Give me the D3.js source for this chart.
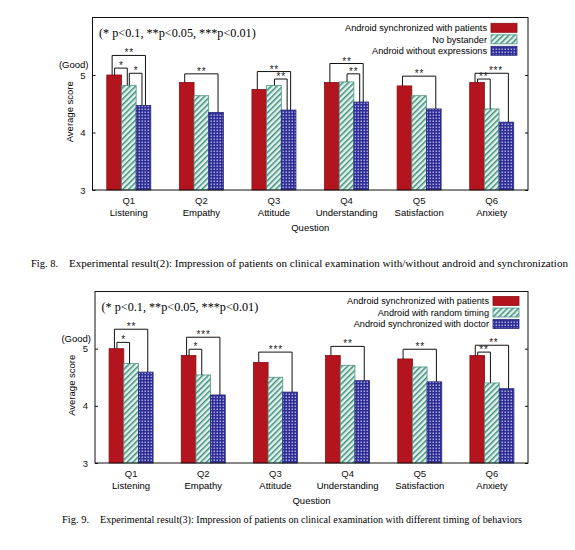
<!DOCTYPE html>
<html><head><meta charset="utf-8">
<script src="https://cdn.jsdelivr.net/npm/d3@7"></script>
<style>
html,body{margin:0;padding:0;background:#fff;}
svg{display:block;}
.sans{font-family:"Liberation Sans",Arial,sans-serif;}
.serif{font-family:"Liberation Serif","Times New Roman",serif;}
</style></head>
<body>
<svg id="chart" width="575" height="550"></svg>
<script>
// ---------- data ----------
const questions = ["Q1","Q2","Q3","Q4","Q5","Q6"];
const questionNames = ["Listening","Empathy","Attitude","Understanding","Satisfaction","Anxiety"];
const yTicks = [3,4,5];
const pNote = "(* p<0.1, **p<0.05, ***p<0.01)";

// Fig. 8
const fig8Series = ["Android synchronized with patients","No bystander","Android without expressions"];
const fig8Synced      = [5.00,4.87,4.75,4.87,4.81,4.87];
const fig8NoBystander = [4.82,4.64,4.82,4.88,4.64,4.41];
const fig8NoExpr      = [4.47,4.35,4.39,4.53,4.41,4.18];
// [question index, from series, to series, bracket level (score), label]
const fig8Brackets = [
  [0,0,1,5.12,"*"],[0,0,2,5.34,"**"],[0,1,2,5.03,"*"],
  [1,0,2,5.02,"**"],
  [2,0,2,5.06,"**"],[2,1,2,4.93,"**"],
  [3,0,2,5.20,"**"],[3,1,2,5.02,"**"],
  [4,0,2,4.98,"**"],
  [5,0,1,4.93,"**"],[5,0,2,5.03,"***"]
];
const fig8Caption = ["Fig. 8.","Experimental result(2): Impression of patients on clinical examination with/without android and synchronization"];

// Fig. 9
const fig9Series = ["Android synchronized with patients","Android with random timing","Android synchronized with doctor"];
const fig9Synced = [5.00,4.88,4.76,4.88,4.82,4.88];
const fig9Random = [4.74,4.54,4.50,4.71,4.68,4.40];
const fig9Doctor = [4.59,4.19,4.24,4.44,4.42,4.30];
const fig9Brackets = [
  [0,0,1,5.11,"*"],[0,0,2,5.34,"**"],
  [1,0,1,4.99,"*"],[1,0,2,5.20,"***"],
  [2,0,2,4.94,"***"],
  [3,0,2,5.04,"**"],
  [4,0,2,4.99,"**"],
  [5,0,1,4.94,"**"],[5,0,2,5.06,"**"]
];
const fig9Caption = ["Fig. 9.","Experimental result(3): Impression of patients on clinical examination with different timing of behaviors"];

// ---------- drawing ----------
const svg = d3.select("#chart");
const defs = svg.append("defs");

// hatch pattern (green)
const ph = defs.append("pattern").attr("id","hatch").attr("patternUnits","userSpaceOnUse")
  .attr("width",4).attr("height",4).attr("patternTransform","rotate(45)");
ph.append("rect").attr("width",4).attr("height",4).attr("fill","#e4f2ec");
ph.append("rect").attr("x",0).attr("y",0).attr("width",1.5).attr("height",4).attr("fill","#3f8f7f");

// dotted check pattern (blue)
const pd = defs.append("pattern").attr("id","dots").attr("patternUnits","userSpaceOnUse")
  .attr("width",3).attr("height",3);
pd.append("rect").attr("width",3).attr("height",3).attr("fill","#2e2e96");
pd.append("rect").attr("x",0.6).attr("y",0.6).attr("width",1.2).attr("height",1.2).attr("fill","#e8e8ff");

const fills = ["#b3141d","url(#hatch)","url(#dots)"];
const strokes = ["#8a0d14","#4f9585","#26267e"];

function overlap(a,b){
  return a.x < b.x+b.width && b.x < a.x+a.width && a.y < b.y+b.height && b.y < a.y+a.height;
}

function drawChart(cfg){
  const g = svg.append("g");
  const x = d3.scaleBand().domain(questions).range([cfg.left,cfg.right]).padding(0);
  const y = d3.scaleLinear().domain([3,6]).range([cfg.bottom,cfg.top]);
  const sub = d3.scaleBand().domain([0,1,2]).range([-22,22]).padding(0);
  const series = cfg.series;

  // bars
  series.forEach((vals,si)=>{
    g.append("g").selectAll("rect").data(vals).join("rect")
      .attr("x",(d,i)=>x(questions[i])+x.bandwidth()/2+sub(si))
      .attr("y",d=>y(d))
      .attr("width",sub.bandwidth())
      .attr("height",d=>y(3)-y(d))
      .attr("fill",fills[si])
      .attr("stroke",strokes[si]).attr("stroke-width",0.8);
  });

  // frame
  g.append("rect").attr("x",cfg.left).attr("y",cfg.top)
    .attr("width",cfg.right-cfg.left).attr("height",cfg.bottom-cfg.top)
    .attr("fill","none").attr("stroke","#111").attr("stroke-width",1);

  // y axis
  const ya = g.append("g").attr("transform",`translate(${cfg.left},0)`)
    .call(d3.axisLeft(y).tickValues(yTicks).tickSizeInner(-3).tickSizeOuter(0).tickPadding(7).tickFormat(d3.format("d")));
  ya.select(".domain").remove();
  ya.selectAll("text").attr("class","sans").attr("font-size",9.5).attr("fill","#111");
  ya.selectAll("line").attr("stroke","#111");
  const yr = g.append("g").attr("transform",`translate(${cfg.right},0)`)
    .call(d3.axisRight(y).tickValues(yTicks).tickSizeInner(-3).tickSizeOuter(0).tickFormat(""));
  yr.select(".domain").remove();
  yr.selectAll("line").attr("stroke","#111");

  g.append("text").attr("class","sans").attr("font-size",9.5).attr("text-anchor","end")
    .attr("x",cfg.left-4).attr("y",y(5)-7).text("(Good)");
  g.append("text").attr("class","sans").attr("font-size",9.5).attr("text-anchor","middle")
    .attr("transform",`translate(${cfg.left-20},${(cfg.top+cfg.bottom)/2+8}) rotate(-90)`)
    .text("Average score");

  // x axis
  const xa = g.append("g").attr("transform",`translate(0,${cfg.bottom})`)
    .call(d3.axisBottom(x).tickSize(0).tickPadding(7));
  xa.select(".domain").remove();
  xa.selectAll("text").attr("class","sans").attr("font-size",9.5).attr("fill","#111");
  g.append("g").selectAll("text").data(questionNames).join("text")
    .attr("class","sans").attr("font-size",9.5).attr("text-anchor","middle")
    .attr("x",(d,i)=>x(questions[i])+x.bandwidth()/2).attr("y",cfg.bottom+26).text(d=>d);
  g.append("text").attr("class","sans").attr("font-size",9.5).attr("text-anchor","middle")
    .attr("x",(cfg.left+cfg.right)/2).attr("y",cfg.bottom+41).text("Question");

  // p note
  g.append("text").attr("class","serif").attr("font-size",12.2)
    .attr("x",cfg.left+6.5).attr("y",cfg.top+19.5).text(pNote);

  // legend
  const lg = g.append("g");
  cfg.labels.forEach((lab,i)=>{
    const cy = cfg.legendY + i*11.5;
    lg.append("rect").attr("x",cfg.legendX).attr("y",cy-4.5).attr("width",26).attr("height",9)
      .attr("fill",fills[i]).attr("stroke",strokes[i]).attr("stroke-width",0.8);
    lg.append("text").attr("class","sans").attr("font-size",9.2).attr("text-anchor","end")
      .attr("x",cfg.legendX-4).attr("y",cy+3.3).text(lab);
  });

  // brackets
  const bg = g.append("g");
  const labels = [];
  cfg.brackets.forEach(([q,a,b,lvl,lab])=>{
    const cx = x(questions[q])+x.bandwidth()/2;
    const outer = (b-a)===2;
    const xa_ = cx+sub(a)+sub.bandwidth()/2+(outer?-2:0.5);
    const xb_ = cx+sub(b)+sub.bandwidth()/2+(outer?2:-1.5);
    const ya_ = y(series[a][q]), yb_ = y(series[b][q]), yl = y(lvl);
    bg.append("path").attr("d",`M${xa_},${ya_}V${yl}H${xb_}V${yb_}`)
      .attr("fill","none").attr("stroke","#111").attr("stroke-width",1);
    const t = bg.append("text").attr("class","sans").attr("font-size",10).attr("text-anchor","middle")
      .attr("letter-spacing",0.8)
      .attr("x",(xa_+xb_)/2+0.4).attr("y",yl+1).attr("fill","#222").text(lab);
    labels.push({q,outer,xa:xa_,t});
  });
  // resolve label collisions within a question: place side by side
  questions.forEach((qq,qi)=>{
    const ls = labels.filter(l=>l.q===qi);
    const inner = ls.find(l=>!l.outer && l.xa < x(qq)+x.bandwidth()/2);
    const out = ls.find(l=>l.outer);
    if(inner && out && overlap(inner.t.node().getBBox(), out.t.node().getBBox())){
      inner.t.attr("text-anchor","start").attr("x",inner.xa+1.5);
      const bb = inner.t.node().getBBox();
      out.t.attr("text-anchor","start").attr("x",bb.x+bb.width+0.5);
    }
  });

  // caption
  svg.append("text").attr("class","serif").attr("font-size",10.5)
    .attr("x",cfg.capX1).attr("y",cfg.capY).text(cfg.caption[0]);
  svg.append("text").attr("class","serif").attr("font-size",10.5)
    .attr("x",cfg.capX2).attr("y",cfg.capY)
    .attr("textLength",cfg.capW).attr("lengthAdjust","spacingAndGlyphs").text(cfg.caption[1]);
}

drawChart({left:92.5,right:528,top:17.5,bottom:190,
  series:[fig8Synced,fig8NoBystander,fig8NoExpr], labels:fig8Series, brackets:fig8Brackets,
  legendX:491, legendY:27.8,
  caption:fig8Caption, capX1:31, capX2:69, capW:499, capY:267});
drawChart({left:95,right:528,top:291.5,bottom:463,
  series:[fig9Synced,fig9Random,fig9Doctor], labels:fig9Series, brackets:fig9Brackets,
  legendX:493, legendY:301,
  caption:fig9Caption, capX1:62, capX2:100, capW:422, capY:523});
</script>
</body></html>
